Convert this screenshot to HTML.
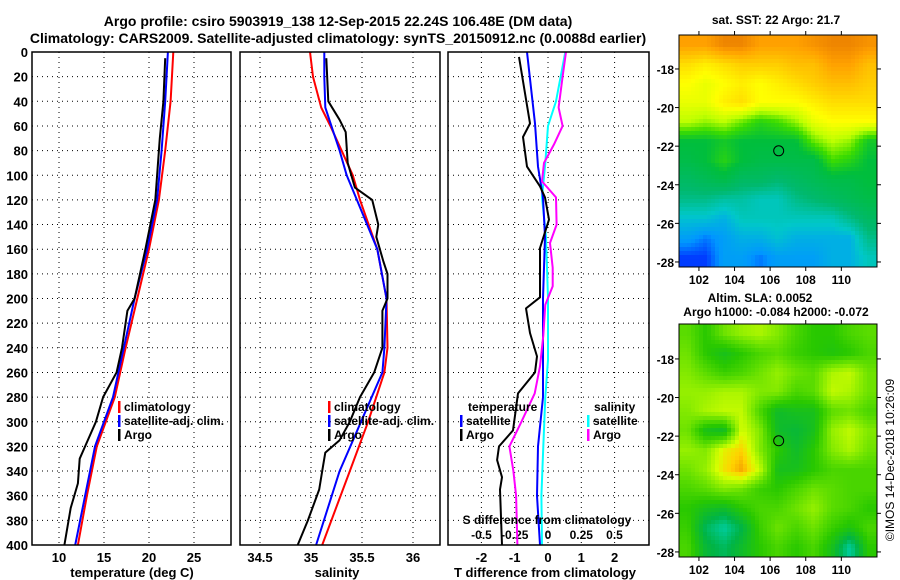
<!DOCTYPE html>
<html><head><meta charset="utf-8"><style>
html,body{margin:0;padding:0;background:#fff;}
svg{display:block;font-family:"Liberation Sans",sans-serif;font-weight:bold;}
</style></head><body>
<svg id="c" width="900" height="580" viewBox="0 0 900 580" xmlns="http://www.w3.org/2000/svg">
<text x="338" y="26" font-size="14" text-anchor="middle">Argo profile: csiro 5903919_138 12-Sep-2015 22.24S 106.48E (DM data)</text>
<text x="338" y="43" font-size="14" text-anchor="middle">Climatology: CARS2009. Satellite-adjusted climatology: synTS_20150912.nc (0.0088d earlier)</text>
<text x="776" y="24" font-size="12" text-anchor="middle">sat. SST: 22 Argo: 21.7</text>
<text x="760" y="302" font-size="12" text-anchor="middle">Altim. SLA: 0.0052</text>
<text x="776" y="316" font-size="12" text-anchor="middle">Argo h1000: -0.084 h2000: -0.072</text>
<text transform="translate(894,460) rotate(-90)" font-size="12" font-weight="normal" text-anchor="middle">©IMOS 14-Dec-2018 10:26:09</text>
<g id="maps"></g>
<g id="plots"></g>
</svg>
<script>
// ---- Profile data ----
const depthTicks = [0,20,40,60,80,100,120,140,160,180,200,220,240,260,280,300,320,340,360,380,400];
const tTicks = [10,15,20,25];
const sTicks = [34.5,35,35.5,36];
const dTTicks = [-2,-1,0,1,2];
const dSTicks = [-0.5,-0.25,0,0.25,0.5];
const dSTickLabels = ["-0.5","-0.25","0","0.25","0.5"];

const argoTdep = [5,40,70,100,120,160,200,210,240,260,280,300,320,330,350,370,400];
const argoT    = [21.8,21.6,21.2,20.9,20.7,19.6,18.4,17.6,17.0,16.4,14.9,14.1,12.9,12.3,12.1,11.3,10.6];
const climTdep = [0,40,80,120,160,200,240,280,320,360,400];
const climT    = [22.7,22.4,21.8,21.1,20.0,18.7,17.4,16.2,14.2,13.1,12.1];
const satT     = [22.1,21.8,21.4,20.9,19.8,18.4,17.2,16.0,14.0,12.9,11.8];

const argoSdep = [5,40,55,65,90,110,120,140,150,170,180,200,210,240,260,280,300,315,325,340,355,380,400];
const argoS    = [35.15,35.17,35.28,35.34,35.36,35.43,35.6,35.66,35.64,35.71,35.75,35.75,35.70,35.70,35.62,35.48,35.38,35.28,35.14,35.11,35.08,34.97,34.87];
const climSdep = [0,20,45,60,80,100,120,160,200,240,260,300,340,400];
const climS    = [34.99,35.02,35.10,35.19,35.30,35.41,35.48,35.65,35.74,35.75,35.72,35.56,35.38,35.11];
const satSdep  = [0,20,45,60,80,100,120,160,200,240,260,300,340,400];
const satS     = [35.13,35.13,35.14,35.20,35.28,35.35,35.45,35.65,35.74,35.72,35.70,35.49,35.28,35.05];

const argoDTdep = [4,58,69,93,109,118,136,159,180,199,208,228,247,260,277,307,320,331,345,355,400];
const argoDT    = [-0.87,-0.54,-0.75,-0.63,-0.24,-0.09,0.03,-0.24,-0.24,-0.24,-0.66,-0.54,-0.33,-0.39,-0.9,-1.05,-1.47,-1.53,-1.38,-1.44,-1.38];
const satDTdep  = [0,58,93,118,150,200,250,280,320,360,400];
const satDT     = [-0.63,-0.39,-0.30,-0.15,-0.09,-0.15,-0.15,-0.15,-0.30,-0.33,-0.24];
const satDSdep  = [0,40,60,90,118,150,200,250,280,320,360,400];
const satDS     = [0.13,0.06,0.0,-0.02,-0.045,-0.015,0.0,0.0,-0.02,-0.035,-0.05,-0.045];
const argoDSdep = [0,20,45,60,75,90,105,118,140,155,175,190,205,230,255,277,300,320,340,360,400];
const argoDS    = [0.135,0.11,0.08,0.11,0.045,-0.03,-0.045,0.06,0.065,0.015,0.035,0.035,-0.02,-0.035,-0.06,-0.1,-0.2,-0.29,-0.26,-0.24,-0.23];

// ---- Map data (coarse grids, rows north->south, cols west->east) ----
const sstGrid = [
[22.8,22.8,23.0,23.0,22.8,22.8,22.8,22.9,23.0,23.0,22.9],
[22.4,22.3,22.4,22.5,22.5,22.5,22.6,22.6,22.8,22.8,22.6],
[22.2,22.1,22.2,22.3,22.2,22.3,22.4,22.5,22.6,22.6,22.5],
[22.1,22.1,22.3,22.4,22.2,22.2,22.2,22.3,22.4,22.4,22.4],
[21.9,21.8,21.9,21.7,21.5,21.6,21.8,22.1,22.2,22.2,22.2],
[21.3,21.3,21.4,21.3,21.3,21.3,21.3,21.7,21.9,21.8,21.4],
[21.2,21.3,21.5,21.3,21.2,21.2,21.2,21.2,21.6,21.5,21.3],
[21.0,21.1,21.2,21.0,21.0,20.9,21.0,21.1,21.2,21.2,21.3],
[20.8,20.8,20.7,20.7,20.6,20.6,20.8,20.9,21.0,21.1,21.2],
[20.5,20.5,20.4,20.6,20.6,20.6,20.6,20.6,20.6,20.8,21.0],
[20.3,20.2,20.3,20.4,20.4,20.5,20.4,20.4,20.4,20.4,20.8],
[20.1,20.1,20.3,20.3,20.2,20.3,20.3,20.3,20.4,20.4,20.6]];
const slaGrid = [
[0.03,0.0,0.04,0.06,0.07,0.05,0.02,0.0,0.0,0.02,0.03],
[0.04,0.0,-0.02,0.0,0.02,0.03,0.01,0.0,-0.01,0.0,0.02],
[0.05,0.03,0.01,0.02,0.04,0.06,0.04,0.03,0.07,0.08,0.04],
[0.06,0.06,0.07,0.07,0.05,0.05,0.02,0.03,0.08,0.07,0.04],
[0.05,0.07,0.08,0.08,0.02,-0.03,-0.02,-0.02,0.03,0.04,0.02],
[0.04,-0.02,-0.03,0.09,0.05,-0.03,-0.04,-0.02,0.06,0.08,0.05],
[0.06,0.05,0.10,0.12,0.05,0.0,-0.03,0.0,0.05,0.07,0.04],
[0.04,0.06,0.11,0.14,0.08,-0.02,-0.02,0.0,0.02,0.02,0.02],
[0.02,0.03,0.05,0.04,0.01,0.0,0.02,0.04,0.03,0.02,0.02],
[0.0,-0.02,-0.03,0.0,0.02,0.02,0.04,0.06,0.03,0.02,0.0],
[0.01,-0.06,-0.09,-0.05,0.01,0.04,0.02,0.04,0.01,-0.01,0.02],
[0.02,-0.04,-0.06,-0.03,0.0,0.02,0.0,0.02,-0.02,-0.09,0.0]];
const latTicks = [-18,-20,-22,-24,-26,-28];
const lonTicks = [102,104,106,108,110];
const argoLon = 106.48, argoLat = -22.24;

const NS = "http://www.w3.org/2000/svg";
const plots = document.getElementById('plots');
const maps = document.getElementById('maps');
function mk(tag, attrs, parent, txt){
  const e = document.createElementNS(NS, tag);
  for (const k in attrs) e.setAttribute(k, attrs[k]);
  if (txt !== undefined) e.textContent = txt;
  (parent || plots).appendChild(e);
  return e;
}
const Y0 = 52, Y1 = 545;
const yD = d => Y0 + d * (Y1 - Y0) / 400;
const xT = t => 32 + (t - 7) * 9;
const xS = s => 311 + (s - 35) * 102;
const xDT = t => 548 + t * 33.3;
const xDS = s => 548 + s * 133;
const panels = [{l:32,r:231},{l:240,r:440},{l:448,r:649}];

panels.forEach((p,pi) => {
  depthTicks.forEach(d => {
    if (d===0||d===400) return;
    const g = mk('line',{x1:p.l,x2:p.r,y1:yD(d),y2:yD(d),stroke:'#000','stroke-width':1,'stroke-dasharray':'1,4'});
    
    
  });
});
tTicks.forEach(t => {
  const g = mk('line',{x1:xT(t),x2:xT(t),y1:Y0,y2:Y1,stroke:'#000','stroke-dasharray':'1,4'});
  
  
  const l = mk('text',{x:xT(t),y:562,'font-size':13,'text-anchor':'middle'},plots,String(t));
  
  
});
sTicks.forEach(s => {
  const g = mk('line',{x1:xS(s),x2:xS(s),y1:Y0,y2:Y1,stroke:'#000','stroke-dasharray':'1,4'});
  
  
  const l = mk('text',{x:xS(s),y:562,'font-size':13,'text-anchor':'middle'},plots,String(s));
  
  
});
dTTicks.forEach(t => {
  const g = mk('line',{x1:xDT(t),x2:xDT(t),y1:Y0,y2:Y1,stroke:'#000','stroke-dasharray':'1,4'});
  
  
  const l = mk('text',{x:xDT(t),y:562,'font-size':13,'text-anchor':'middle'},plots,String(t));
  
  
});
dSTicks.forEach((s,i) => {
  const l = mk('text',{x:xDS(s),y:539,'font-size':12,'text-anchor':'middle'},plots,dSTickLabels[i]);
  
  
});
depthTicks.forEach(d => {
  const l = mk('text',{x:28,y:yD(d)+5,'font-size':13,'text-anchor':'end'},plots,String(d));
  
  
});

function series(xs, ds, xf, color, name, w){
  const pts = xs.map((v,i)=> xf(v).toFixed(1)+','+yD(ds[i]).toFixed(1)).join(' ');
  const e = mk('polyline',{points:pts,fill:'none',stroke:color,'stroke-width':w||2,'stroke-linejoin':'round'});
  
  
}
series(climT, climTdep, xT, '#ff0000','temperature-climatology-line');
series(satT, climTdep, xT, '#0000ff','temperature-satellite-line');
series(argoT, argoTdep, xT, '#000000','temperature-argo-line');
series(climS, climSdep, xS, '#ff0000','salinity-climatology-line');
series(satS, satSdep, xS, '#0000ff','salinity-satellite-line');
series(argoS, argoSdep, xS, '#000000','salinity-argo-line');
series(satDS, satDSdep, xDS, '#00ffff','sdiff-satellite-line');
series(satDT, satDTdep, xDT, '#0000ff','tdiff-satellite-line');
series(argoDS, argoDSdep, xDS, '#ff00ff','sdiff-argo-line');
series(argoDT, argoDTdep, xDT, '#000000','tdiff-argo-line');

panels.forEach((p,i) => {
  const b = mk('rect',{x:p.l,y:Y0,width:p.r-p.l,height:Y1-Y0,fill:'none',stroke:'#000','stroke-width':1.5});
  
  
});

function legend(x, y, color, label, name){
  const b = mk('rect',{x:x,y:y-10,width:2.5,height:12,fill:color});
  
  
  const t = mk('text',{x:x+6,y:y,'font-size':12},plots,label);
  
  
}
legend(118,411,'#ff0000','climatology','legend-t-climatology');
legend(118,425,'#0000ff','satellite-adj. clim.','legend-t-satellite');
legend(118,439,'#000000','Argo','legend-t-argo');
legend(328,411,'#ff0000','climatology','legend-s-climatology');
legend(328,425,'#0000ff','satellite-adj. clim.','legend-s-satellite');
legend(328,439,'#000000','Argo','legend-s-argo');
(function(){
  const t1 = mk('text',{x:468,y:411,'font-size':12},plots,'temperature');
  
  
  const t2 = mk('text',{x:594,y:411,'font-size':12},plots,'salinity');
  
  
})();
legend(460,425,'#0000ff','satellite','legend-tdiff-satellite');
legend(460,439,'#000000','Argo','legend-tdiff-argo');
legend(587,425,'#00ffff','satellite','legend-sdiff-satellite');
legend(587,439,'#ff00ff','Argo','legend-sdiff-argo');
(function(){
  const a = mk('text',{x:547,y:524,'font-size':12,'text-anchor':'middle'},plots,'S difference from climatology');
  
  
  const b = mk('text',{x:132,y:577,'font-size':13,'text-anchor':'middle'},plots,'temperature (deg C)');
  
  
  const c = mk('text',{x:337,y:577,'font-size':13,'text-anchor':'middle'},plots,'salinity');
  
  
  const d = mk('text',{x:545,y:577,'font-size':13,'text-anchor':'middle'},plots,'T difference from climatology');
  
  
})();

// ---- Maps ----
function lerp(a,b,t){return a+(b-a)*t;}
function cmap(stops, v){
  if (v<=stops[0][0]) return stops[0][1];
  for (let i=1;i<stops.length;i++){
    if (v<=stops[i][0]){
      const t=(v-stops[i-1][0])/(stops[i][0]-stops[i-1][0]);
      const a=stops[i-1][1], b=stops[i][1];
      return [0,1,2].map(k=>Math.round(lerp(a[k],b[k],t)));
    }
  }
  return stops[stops.length-1][1];
}
const sstStops = [[20.0,[0,0,255]],[20.25,[0,150,255]],[20.55,[0,200,200]],[20.9,[0,185,110]],[21.3,[0,190,60]],[21.6,[60,220,0]],[21.9,[190,255,0]],[22.2,[255,255,0]],[22.5,[255,205,0]],[22.8,[255,160,0]],[23.1,[230,120,0]]];
const slaStops = [[-0.1,[0,210,180]],[-0.05,[0,180,70]],[0,[40,200,0]],[0.03,[90,220,0]],[0.06,[150,240,0]],[0.09,[215,255,0]],[0.12,[255,210,0]],[0.15,[240,140,0]]];

function drawMap(m, grid, stops, name, block){
  const g = mk('g',{},maps);
  
  
  const nr = grid.length, nc = grid[0].length;
  const W = m.r - m.l, H = m.b - m.t;
  for (let y=0;y<H;y+=block){
    for (let x=0;x<W;x+=block){
      const fr = Math.min(Math.max((y+block/2)/H*nr-0.5,0),nr-1);
      const fc = Math.min(Math.max((x+block/2)/W*nc-0.5,0),nc-1);
      const r0=Math.floor(fr), c0=Math.floor(fc);
      const r1=Math.min(r0+1,nr-1), c1=Math.min(c0+1,nc-1);
      const tr=fr-r0, tc=fc-c0;
      const v = lerp(lerp(grid[r0][c0],grid[r0][c1],tc), lerp(grid[r1][c0],grid[r1][c1],tc), tr);
      const col = cmap(stops, v);
      mk('rect',{x:m.l+x,y:m.t+y,width:Math.min(block,W-x),height:Math.min(block,H-y),fill:'rgb('+col.join(',')+')'},g);
    }
  }
  const latY = lat => m.t + (m.latTop - lat) * m.pxLat;
  const lonX = lon => m.l + (lon - m.lonLeft) * m.pxLon;
  latTicks.forEach(lat => {
    const y = latY(lat);
    mk('line',{x1:m.l-4,x2:m.l,y1:y,y2:y,stroke:'#000'},maps);
    mk('line',{x1:m.r,x2:m.r+4,y1:y,y2:y,stroke:'#000'},maps);
    const t = mk('text',{x:m.l-5,y:y+5,'font-size':12,'text-anchor':'end'},maps,String(lat));
    
    
  });
  lonTicks.forEach(lon => {
    const x = lonX(lon);
    mk('line',{x1:x,x2:x,y1:m.t-4,y2:m.t,stroke:'#000'},maps);
    mk('line',{x1:x,x2:x,y1:m.b,y2:m.b+4,stroke:'#000'},maps);
    const t = mk('text',{x:x,y:m.b+17,'font-size':12,'text-anchor':'middle'},maps,String(lon));
    
    
  });
  const c = mk('circle',{cx:lonX(argoLon),cy:latY(argoLat),r:5,fill:'none',stroke:'#000','stroke-width':1},maps);
  
  
  const f = mk('rect',{x:m.l,y:m.t,width:W,height:H,fill:'none',stroke:'#000','stroke-width':1},maps);
  
  
}
drawMap({l:679,r:877,t:35,b:267,latTop:-16.24,pxLat:19.3,lonLeft:100.88,pxLon:17.8}, sstGrid, sstStops, 'sst-map', 4);
drawMap({l:679,r:877,t:324,b:557,latTop:-16.19,pxLat:19.3,lonLeft:100.88,pxLon:17.8}, slaGrid, slaStops, 'sla-map', 4);
</script>
</body></html>
